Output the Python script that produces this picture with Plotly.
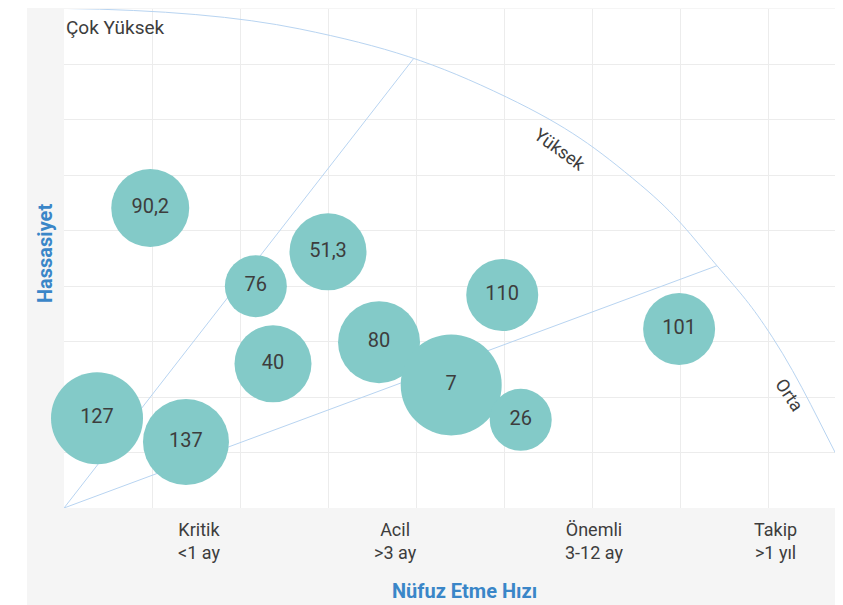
import plotly.graph_objects as go

# ---- data ----
bubble_labels = ["90,2", "76", "51,3", "40", "127", "137", "80", "7", "26", "110", "101"]
penetration = [0.98, 2.18, 3.00, 2.375, 0.375, 1.386, 3.58, 4.40, 5.19, 4.98, 6.99]   # x
sensitivity = [5.41, 4.00, 4.62, 2.60, 1.62, 1.19, 2.99, 2.22, 1.59, 3.84, 3.23]      # y
bubble_size = [78, 62, 77, 77, 92, 86, 82, 101, 62, 72, 72]

category_pos = [1.534, 3.77, 6.02, 8.08]
category_labels = ["Kritik<br>&lt;1 ay", "Acil<br>&gt;3 ay", "Önemli<br>3-12 ay", "Takip<br>&gt;1 yıl"]

# zone guide (outer boundary) and the two zone dividers
arc_x = [0.0, 2.68, 5.03, 6.55, 7.42, 8.05, 8.85, 9.1]
arc_y = [9.01, 8.64, 7.41, 5.83, 4.37, 3.08, 0.74, 0.0]
divider1_x = [0.0, 3.97]
divider1_y = [0.0, 8.10]
divider2_x = [0.0, 7.42]
divider2_y = [0.0, 4.37]

FONT = "Roboto"
LINE_COL = "#b8d4f1"
TEXT_COL = "#3d3d3d"
TITLE_COL = "#3a86c8"

fig = go.Figure()

for xs, ys, shape in [(arc_x, arc_y, "spline"), (divider1_x, divider1_y, "linear"),
                      (divider2_x, divider2_y, "linear")]:
    fig.add_trace(go.Scatter(x=xs, y=ys, mode="lines",
                             line=dict(color=LINE_COL, width=1, shape=shape, smoothing=1.2),
                             hoverinfo="skip", showlegend=False))

fig.add_trace(go.Scatter(
    x=penetration, y=sensitivity, mode="markers+text",
    text=bubble_labels, textposition="middle center",
    textfont=dict(family=FONT, size=20, color=TEXT_COL),
    marker=dict(size=bubble_size, sizemode="diameter", sizeref=1,
                color="#83cac8", opacity=1, line=dict(width=0)),
    showlegend=False, cliponaxis=False))

# page body adds an 8px offset; work in screen pixels and convert
OFF = 8
W, H = 843, 605 - OFF
ML, MR, MT = 64 - OFF, 0, 9 - OFF
PLOT_BOTTOM = 508 - OFF
MB = H - PLOT_BOTTOM
pw, ph = W - ML - MR, H - MT - MB

def px_x(p):          # screen px -> paper x
    return (p - OFF - ML) / pw

def px_y(p):          # screen px -> paper y
    return (PLOT_BOTTOM - (p - OFF)) / ph

annotations = []
for pos, lab in zip(category_pos, category_labels):
    annotations.append(dict(x=pos, xref="x", y=px_y(541), yref="paper", text=lab,
                            showarrow=False, xanchor="center", yanchor="middle",
                            font=dict(family=FONT, size=18, color=TEXT_COL)))
annotations += [
    dict(x=px_x(464), xref="paper", y=px_y(591), yref="paper",
         text="<b>Nüfuz Etme Hızı</b>", showarrow=False, xanchor="center", yanchor="middle",
         font=dict(family=FONT, size=20, color=TITLE_COL)),
    dict(x=px_x(45), xref="paper", y=px_y(254), yref="paper",
         text="<b>Hassasiyet</b>", textangle=-90, showarrow=False,
         xanchor="center", yanchor="middle",
         font=dict(family=FONT, size=20, color=TITLE_COL)),
    dict(x=0, xref="paper", y=px_y(27), yref="paper", text="Çok Yüksek",
         showarrow=False, xanchor="left", yanchor="middle",
         font=dict(family=FONT, size=19, color=TEXT_COL)),
    dict(x=5.64, xref="x", y=6.47, yref="y", text="Yüksek", textangle=36,
         showarrow=False, xanchor="center", yanchor="middle",
         font=dict(family=FONT, size=18, color=TEXT_COL)),
    dict(x=8.24, xref="x", y=2.04, yref="y", text="Orta", textangle=56,
         showarrow=False, xanchor="center", yanchor="middle",
         font=dict(family=FONT, size=18, color=TEXT_COL)),
]

fig.update_layout(
    width=W, height=H,
    margin=dict(l=ML, r=MR, t=MT, b=MB, pad=0),
    paper_bgcolor="#f5f5f5", plot_bgcolor="#ffffff",
    font=dict(family=FONT, color=TEXT_COL),
    xaxis=dict(range=[0, pw / 88.0], dtick=1, tick0=0, showticklabels=False,
               showgrid=True, gridcolor="#ececec", gridwidth=1,
               zeroline=False, showline=False, ticks="", fixedrange=True),
    yaxis=dict(range=[0, 9], dtick=1, tick0=0, showticklabels=False,
               showgrid=True, gridcolor="#ececec", gridwidth=1,
               zeroline=False, showline=False, ticks="", fixedrange=True),
    shapes=[dict(type="rect", xref="paper", yref="paper",
                 x0=px_x(-20), x1=px_x(27), y0=px_y(640), y1=px_y(-20),
                 fillcolor="#ffffff", line=dict(width=0), layer="below")],
    annotations=annotations,
)

fig.write_html("out.html")
